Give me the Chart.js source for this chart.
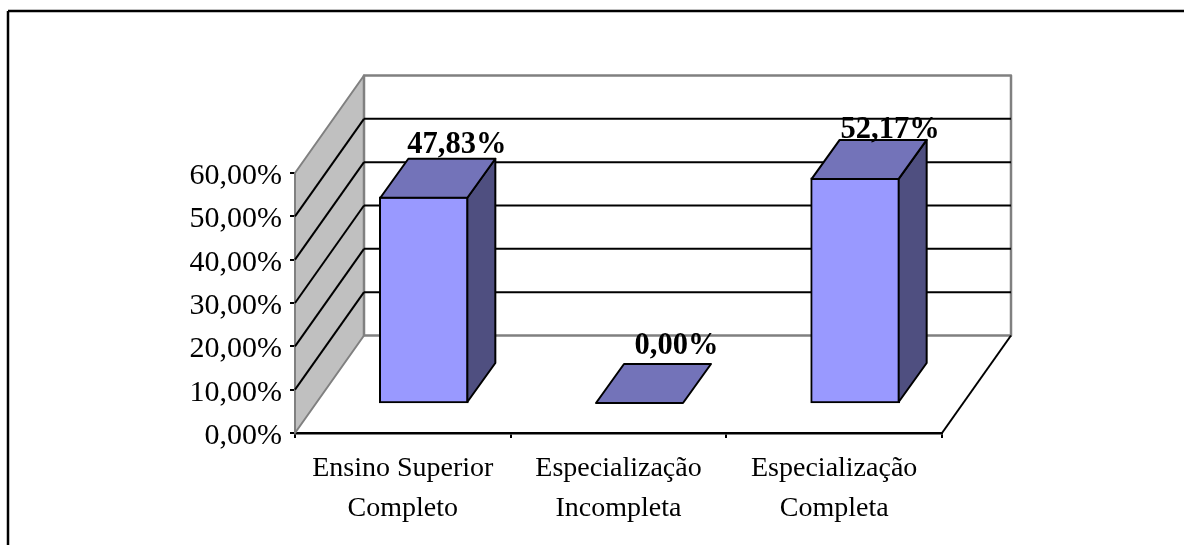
<!DOCTYPE html>
<html lang="pt">
<head>
<meta charset="utf-8">
<title>Escolaridade</title>
<script src="https://cdn.jsdelivr.net/npm/chart.js@4/dist/chart.umd.min.js"></script>
<style>
    html, body { margin: 0; padding: 0; background: #fff; overflow: hidden; }
    #wrap { position: relative; width: 1184px; height: 545px; }
</style>
</head>
<body>
<div id="wrap"><canvas id="escolaridade"></canvas></div>
<script>
// Chart data
const categories = [
    ['Ensino Superior', 'Completo'],
    ['Especialização', 'Incompleta'],
    ['Especialização', 'Completa']
];
const percentages = [47.83, 0, 52.17];
const yTickLabels = ['0,00%', '10,00%', '20,00%', '30,00%', '40,00%', '50,00%', '60,00%'];

// Box depth and wall depth for the fake 3D look
const WALL_DX = 69, WALL_DY = -97.5;
const BAR_DX = 21, BAR_DY = -29;
const SIDE_DX = 28, SIDE_DY = -39;

// Value labels sit a little differently over each bar
const LABEL_SHIFT_X = [54, 58, 56];
const LABEL_SHIFT_Y = [-73, -79, -69];

const SERIF = '"Liberation Serif", "Times New Roman", serif';

function poly(ctx, points, fill, stroke, width) {
    ctx.beginPath();
    points.forEach((p, i) => i ? ctx.lineTo(p[0], p[1]) : ctx.moveTo(p[0], p[1]));
    ctx.closePath();
    if (fill) {
        ctx.fillStyle = fill;
        ctx.fill();
    }
    if (stroke) {
        ctx.strokeStyle = stroke;
        ctx.lineWidth = width;
        ctx.lineJoin = 'round';
        ctx.stroke();
    }
}

function line(ctx, x1, y1, x2, y2, color, width) {
    ctx.beginPath();
    ctx.moveTo(x1, y1);
    ctx.lineTo(x2, y2);
    ctx.strokeStyle = color;
    ctx.lineWidth = width;
    ctx.stroke();
}

const box3d = {
    id: 'box3d',

    // outer frame, floor and walls go under the bars
    beforeDatasetsDraw(chart) {
        const { ctx, chartArea: area, scales: { y } } = chart;
        const { left, right, top, bottom } = area;

        ctx.save();
        line(ctx, 8, 545, 8, 11, '#000', 2.5);
        line(ctx, 8, 11, 1184, 11, '#000', 2.5);

        // left wall
        poly(ctx, [
            [left, bottom], [left, top],
            [left + WALL_DX, top + WALL_DY], [left + WALL_DX, bottom + WALL_DY]
        ], '#C0C0C0', '#808080', 2);

        // back wall
        poly(ctx, [
            [left + WALL_DX, top + WALL_DY], [right + WALL_DX, top + WALL_DY],
            [right + WALL_DX, bottom + WALL_DY], [left + WALL_DX, bottom + WALL_DY]
        ], '#fff', '#808080', 2.5);

        // grid lines fold from the left wall onto the back wall
        y.ticks.forEach(t => {
            const py = y.getPixelForValue(t.value);
            if (t.value > 0 && t.value < 60) {
                line(ctx, left, py, left + WALL_DX, py + WALL_DY, '#000', 2);
                line(ctx, left + WALL_DX, py + WALL_DY, right + WALL_DX, py + WALL_DY, '#000', 2);
            }
        });

        // floor edge on the right
        line(ctx, right, bottom, right + WALL_DX, bottom + WALL_DY, '#000', 2);
        ctx.restore();

        // front faces are the real bars, pushed back onto the floor
        ctx.save();
        ctx.translate(BAR_DX, BAR_DY);
    },

    afterDatasetsDraw(chart) {
        const { ctx } = chart;
        ctx.restore();

        const bars = chart.getDatasetMeta(0).data;
        ctx.save();
        bars.forEach(bar => {
            const half = bar.width / 2;
            const x1 = bar.x + BAR_DX - half + 1;
            const x2 = bar.x + BAR_DX + half - 1;
            const yBase = bar.base + BAR_DY - 1;
            const yTop = Math.min(bar.y + BAR_DY + 1, yBase);

            if (yBase > yTop) {
                poly(ctx, [
                    [x2, yTop], [x2 + SIDE_DX, yTop + SIDE_DY],
                    [x2 + SIDE_DX, yBase + SIDE_DY], [x2, yBase]
                ], '#4F4F80', '#000', 2);
            }
            poly(ctx, [
                [x1, yTop], [x1 + SIDE_DX, yTop + SIDE_DY],
                [x2 + SIDE_DX, yTop + SIDE_DY], [x2, yTop]
            ], '#7373B9', '#000', 2);
        });

        // value labels on top of everything
        ctx.fillStyle = '#000';
        ctx.font = 'bold 30.5px ' + SERIF;
        ctx.textAlign = 'center';
        ctx.textBaseline = 'alphabetic';
        bars.forEach((bar, i) => {
            const text = percentages[i].toFixed(2).replace('.', ',') + '%';
            ctx.fillText(text, bar.x + LABEL_SHIFT_X[i], bar.y + LABEL_SHIFT_Y[i]);
        });
        ctx.restore();
    }
};

new Chart(document.getElementById('escolaridade'), {
    type: 'bar',
    data: {
        labels: categories,
        datasets: [{
            data: percentages,
            backgroundColor: '#9999FF',
            borderColor: '#000',
            borderWidth: 2,
            borderSkipped: false,
            barThickness: 89,
            clip: false
        }]
    },
    options: {
        responsive: true,
        maintainAspectRatio: false,
        animation: false,
        layout: { padding: { top: 173, right: 242, left: 0, bottom: 0 } },
        plugins: { legend: { display: false }, tooltip: { enabled: false } },
        scales: {
            x: {
                afterFit(scale) { scale.height = 112; },
                grid: { drawOnChartArea: false, color: '#000', lineWidth: 2, tickLength: 5 },
                border: { color: '#000', width: 2.5 },
                ticks: {
                    color: '#000',
                    padding: 11,
                    maxRotation: 0,
                    autoSkip: false,
                    font: { family: SERIF, size: 28, lineHeight: 1.43 }
                }
            },
            y: {
                min: 0,
                max: 60,
                afterFit(scale) { scale.width = 295; },
                grid: { drawOnChartArea: false, color: '#000', lineWidth: 2, tickLength: 5 },
                border: { color: '#000', width: 2.5 },
                ticks: {
                    stepSize: 10,
                    color: '#000',
                    padding: 8,
                    labelOffset: 3,
                    font: { family: SERIF, size: 30 },
                    callback: (value, index) => yTickLabels[index]
                }
            }
        }
    },
    plugins: [box3d]
});
</script>
</body>
</html>
